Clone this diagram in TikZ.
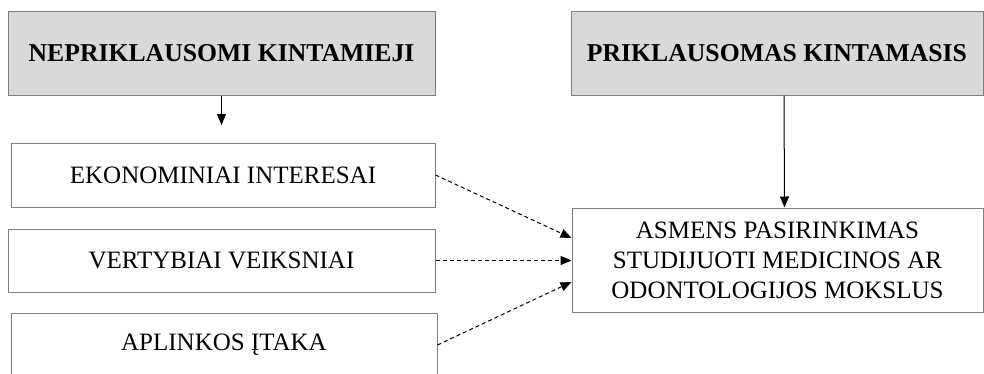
\documentclass[tikz,border=0pt]{standalone}
\usepackage{fontspec}
\setmainfont{Liberation Serif}
\usetikzlibrary{arrows.meta}
\definecolor{boxgray}{HTML}{808080}
\definecolor{headfill}{HTML}{D9D9D9}
\begin{document}
\begin{tikzpicture}[x=1pt,y=-1pt,
  box/.style={draw=boxgray, line width=1pt, inner sep=0pt, align=center,
    font=\fontsize{25}{30}\selectfont},
  head/.style={box, fill=headfill, font=\fontsize{25.7}{30}\selectfont\bfseries},
  link/.style={line width=1pt, -{Triangle[length=11pt,width=9pt]}},
  dlink/.style={link, dash pattern=on 4pt off 3pt}]
\useasboundingbox (0,0) rectangle (984,373);

% header boxes
\node[head, minimum width=427pt, minimum height=84pt] (indep) at (221.5,53) {NEPRIKLAUSOMI KINTAMIEJI};
\node[head, minimum width=412pt, minimum height=84pt] (dephead) at (777,53) {PRIKLAUSOMAS KINTAMASIS};

% independent variables
\node[box, minimum width=424pt, minimum height=64pt] (eko) at (223,175) {EKONOMINIAI INTERESAI};
\node[box, minimum width=427pt, minimum height=63pt] (ver) at (221.5,260.5) {VERTYBIAI VEIKSNIAI};
\node[box, minimum width=426pt, minimum height=64pt] (apl) at (224,345) {APLINKOS ĮTAKA};

% dependent variable
\node[box, minimum width=411pt, minimum height=104pt] (dep) at (777.5,260)
  {ASMENS PASIRINKIMAS\\STUDIJUOTI MEDICINOS AR\\ODONTOLOGIJOS MOKSLUS};

% connectors
\coordinate (independ) at (221.5,125);
\draw[link] (indep.south) -- (independ);
\draw[link] ([xshift=7pt]dephead.south) -- ([xshift=7pt]dep.north);
\draw[dlink] (eko.east) -- ([yshift=22pt]dep.west);
\draw[dlink] (ver.east) -- (ver.east -| dep.west);
\draw[dlink] (apl.east) -- ([yshift=-22pt]dep.west);
\end{tikzpicture}
\end{document}
